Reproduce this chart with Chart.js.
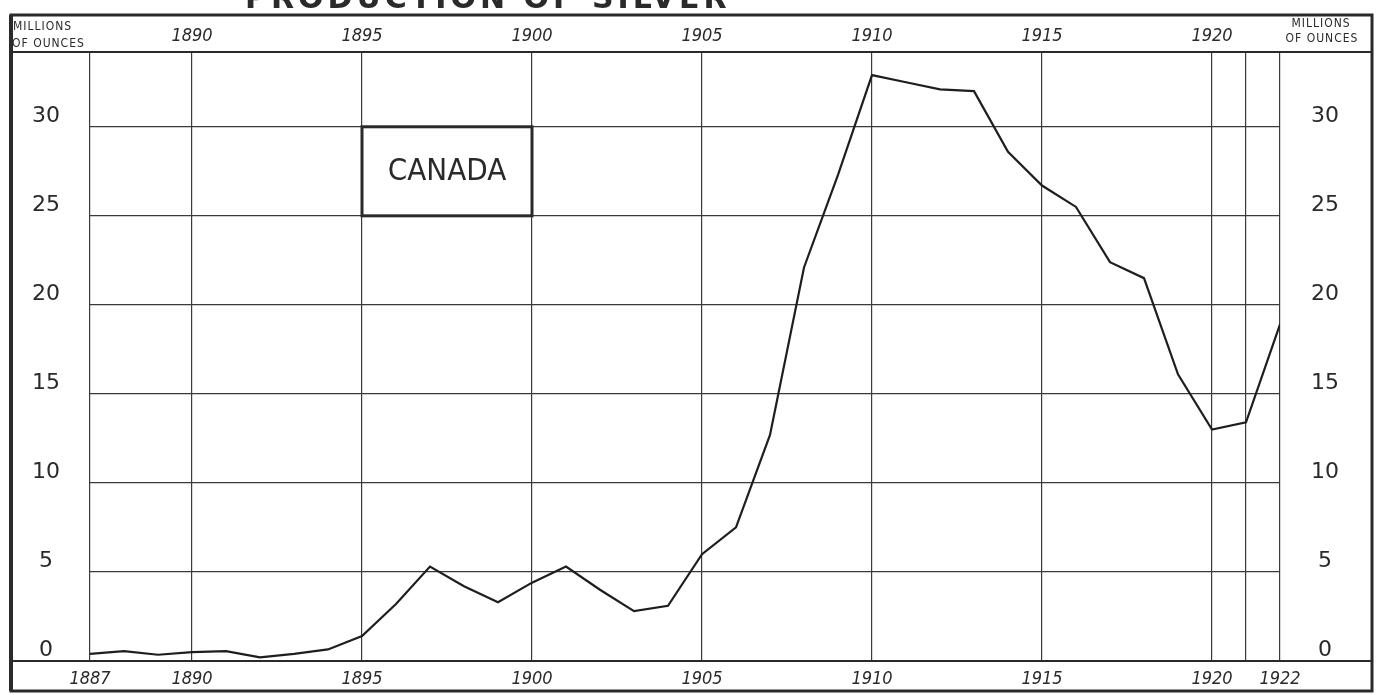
<!DOCTYPE html>
<html>
<head>
<meta charset="utf-8">
<title>Production of Silver - Canada</title>
<script src="https://cdn.jsdelivr.net/npm/chart.js@4/dist/chart.umd.min.js"></script>
<style>
body { margin: 0; background: #fff; }
#box { width: 1382px; height: 695px; }
</style>
</head>
<body>
<div id="box"><canvas id="silverChart" width="1382" height="695"></canvas></div>
<script>
// data (millions of ounces)
const firstYear = 1887;
const silver = [
  0.4, 0.55, 0.35, 0.5, 0.55, 0.2, 0.4, 0.65, 1.4, 3.2,
  5.3, 4.2, 3.3, 4.4, 5.3, 4.0, 2.8, 3.1, 6.0, 7.5,
  12.7, 22.1, 27.3, 32.9, 32.5, 32.1, 32.0, 28.6, 26.7, 25.5,
  22.4, 21.5, 16.1, 13.0, 13.4, 18.9
];
const gridYears = [1887, 1890, 1895, 1900, 1905, 1910, 1915, 1920, 1921, 1922];
const bottomYears = [1887, 1890, 1895, 1900, 1905, 1910, 1915, 1920, 1922];
const topYears = [1890, 1895, 1900, 1905, 1910, 1915, 1920];
const yTicks = [0, 5, 10, 15, 20, 25, 30];
const yTop = 34.2;
const countryLabel = "CANADA";
const unitLines = ["MILLIONS", "OF OUNCES"];
const titleText = "PRODUCTION OF SILVER";

const points = silver.map((v, i) => ({ x: firstYear + i, y: v }));

const INK = "#2a2a2a";
const yearFont = { family: "'Liberation Sans Narrow', 'DejaVu Sans Condensed', sans-serif", size: 18, style: "italic" };
const numFont = { family: "'DejaVu Sans', sans-serif", size: 22 };

function setTicks(list) {
  return scale => { scale.ticks = list.map(v => ({ value: v })); };
}

// fixed axis sizes, no extra room for half labels
function fixSize(w, h) {
  return s => {
    if (w) s.width = w;
    if (h) s.height = h;
    s.paddingTop = 0; s.paddingBottom = 0;
    s.paddingLeft = 0; s.paddingRight = 0;
  };
}

// frame, header strip, country box and corner texts
const decor = {
  id: "decor",
  afterDraw(chart) {
    const ctx = chart.ctx;
    const a = chart.chartArea;
    const xs = chart.scales.x;
    const ys = chart.scales.y;
    ctx.save();
    ctx.strokeStyle = INK;

    // outer frame
    ctx.lineWidth = 3;
    ctx.strokeRect(11, 15, 1361, 676);
    ctx.lineWidth = 4;
    ctx.beginPath(); ctx.moveTo(11, 15); ctx.lineTo(11, 691); ctx.stroke();

    // header line and zero line across the whole width
    ctx.lineWidth = 2;
    ctx.beginPath();
    ctx.moveTo(11, a.top); ctx.lineTo(1372, a.top);
    ctx.moveTo(11, a.bottom); ctx.lineTo(1372, a.bottom);
    ctx.stroke();

    // country box
    const bx1 = xs.getPixelForValue(1895), bx2 = xs.getPixelForValue(1900);
    const by1 = ys.getPixelForValue(30), by2 = ys.getPixelForValue(25);
    ctx.lineWidth = 3;
    ctx.fillStyle = "#fff";
    ctx.fillRect(bx1, by1, bx2 - bx1, by2 - by1);
    ctx.strokeRect(bx1, by1, bx2 - bx1, by2 - by1);
    ctx.fillStyle = INK;
    ctx.font = "31px 'DejaVu Sans Condensed', 'Liberation Sans Narrow', sans-serif";
    ctx.textAlign = "center";
    ctx.textBaseline = "middle";
    ctx.fillText(countryLabel, (bx1 + bx2) / 2, (by1 + by2) / 2 + 1);

    // unit labels in the header corners
    ctx.font = "12px 'DejaVu Sans Condensed', sans-serif";
    ctx.letterSpacing = "1px";
    ctx.textAlign = "left";
    ctx.fillText(unitLines[0], 13, 27);
    ctx.fillText(unitLines[1], 12, 44);
    ctx.textAlign = "center";
    ctx.fillText(unitLines[0], 1321, 24);
    ctx.fillText(unitLines[1], 1322, 39);

    // title, mostly cut off at the top edge
    ctx.font = "bold 30px 'DejaVu Sans', sans-serif";
    ctx.letterSpacing = "4px";
    ctx.textAlign = "left";
    ctx.textBaseline = "alphabetic";
    ctx.fillText(titleText, 245, 8);
    ctx.restore();
  }
};

new Chart(document.getElementById("silverChart"), {
  type: "line",
  data: {
    datasets: [{
      label: "Canada",
      data: points,
      borderColor: "#1e1e1e",
      borderWidth: 2.2,
      pointRadius: 0,
      tension: 0,
      fill: false
    }]
  },
  options: {
    responsive: false,
    animation: false,
    layout: { padding: { left: 11, right: 10, top: 15, bottom: 3 } },
    plugins: {
      legend: { display: false },
      tooltip: { enabled: false }
    },
    scales: {
      x: {
        type: "linear",
        position: "bottom",
        min: 1887,
        max: 1922,
        afterBuildTicks: setTicks(gridYears),
        afterFit: fixSize(0, 31),
        border: { display: false },
        grid: { color: "#3a3a3a", lineWidth: 1.2, drawTicks: false },
        ticks: {
          autoSkip: false,
          maxRotation: 0,
          padding: 8,
          color: INK,
          font: yearFont,
          callback: v => bottomYears.includes(v) ? String(v) : ""
        }
      },
      xTop: {
        type: "linear",
        position: "top",
        min: 1887,
        max: 1922,
        afterBuildTicks: setTicks(gridYears),
        afterFit: fixSize(0, 37),
        border: { display: false },
        grid: { display: false, drawTicks: false },
        ticks: {
          autoSkip: false,
          maxRotation: 0,
          padding: 5,
          color: INK,
          font: yearFont,
          callback: v => topYears.includes(v) ? String(v) : ""
        }
      },
      y: {
        position: "left",
        min: 0,
        max: yTop,
        afterBuildTicks: setTicks(yTicks),
        afterFit: fixSize(79, 0),
        border: { display: false },
        grid: { color: "#3a3a3a", lineWidth: 1.2, drawTicks: false },
        ticks: {
          crossAlign: "center",
          padding: 30,
          labelOffset: -11,
          color: INK,
          font: numFont
        }
      },
      yRight: {
        position: "right",
        min: 0,
        max: yTop,
        afterBuildTicks: setTicks(yTicks),
        afterFit: fixSize(92, 0),
        border: { display: false },
        grid: { display: false, drawTicks: false },
        ticks: {
          crossAlign: "center",
          padding: 31,
          labelOffset: -11,
          color: INK,
          font: numFont
        }
      }
    }
  },
  plugins: [decor]
});
</script>
</body>
</html>
